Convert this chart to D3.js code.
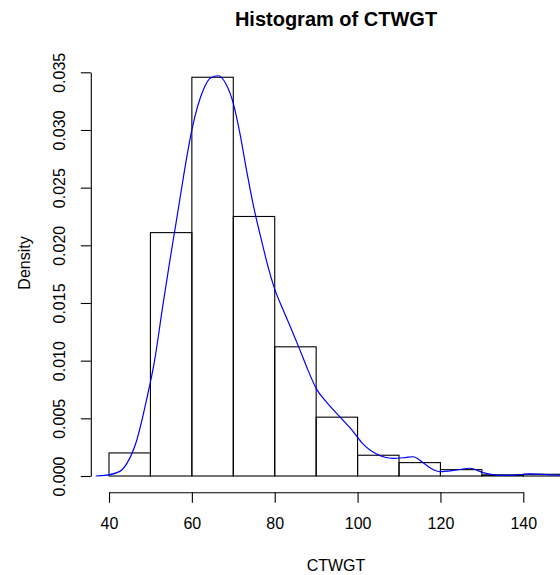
<!DOCTYPE html>
<html>
<head>
<meta charset="utf-8">
<script src="https://cdn.jsdelivr.net/npm/d3@7"></script>
<style>
  html, body { margin: 0; padding: 0; background: #fff; }
  svg { display: block; }
  text { font-family: "Liberation Sans", Arial, sans-serif; }
</style>
</head>
<body>
<svg id="chart" width="560" height="575"></svg>
<script>
// Histogram bins (left edges, width 10) and densities
const binStarts = [40, 50, 60, 70, 80, 90, 100, 110, 120, 130, 140];
const binWidth = 10;
const densities = [0.0020, 0.0211, 0.03457, 0.0225, 0.0112, 0.0051, 0.0018, 0.00116, 0.00055, 0.0001, 0.00015];

// Kernel density estimate curve (x, density)
const kdeX = [36.8, 39, 42.6, 44.5, 46.7, 49, 51, 53, 54.7, 56.3, 58, 60, 62.8, 64.5, 66.4, 68.2, 70, 71.6, 73.2, 75,
              76.9, 78.5, 80, 82, 84.1, 86, 88, 90, 92.5, 95.8, 98.6, 101, 104.6, 108.6, 111.5, 113.4, 116, 118, 119.9,
              123.9, 127.1, 130.3, 134.4, 138, 141.6, 146.4, 150, 156];
const kdeY = [0, 0.00005, 0.0004, 0.0012, 0.0031, 0.0065, 0.0100, 0.0148, 0.0187, 0.0222, 0.0260, 0.0300, 0.0335, 0.0345, 0.0347, 0.0340, 0.0323, 0.0297, 0.0265, 0.0232,
              0.0203, 0.0180, 0.0162, 0.01443, 0.01266, 0.0110, 0.0092, 0.0076, 0.0064, 0.0051, 0.0040, 0.0029, 0.0019, 0.00153, 0.0016, 0.00167, 0.0011, 0.0006, 0.00037,
              0.00052, 0.00067, 0.00029, 0.00005, 0.00008, 0.00018, 0.0001, 0.00005, 0];

// Axis ticks
const xTicks = [40, 60, 80, 100, 120, 140];
const yTicks = [0, 0.005, 0.010, 0.015, 0.020, 0.025, 0.030, 0.035];

const svg = d3.select("#chart");

const x = d3.scaleLinear().domain([40, 140]).range([109, 523.3]);
const y = d3.scaleLinear().domain([0, 0.035]).range([476, 72.3]);

const plotLeft = 90.8, plotBottom = 492.3;

// Bars
svg.append("g")
  .selectAll("rect")
  .data(binStarts.map((s, i) => ({ s, d: densities[i] })))
  .join("rect")
  .attr("x", d => x(d.s))
  .attr("y", d => y(d.d))
  .attr("width", d => x(d.s + binWidth) - x(d.s))
  .attr("height", d => y(0) - y(d.d))
  .attr("fill", "none")
  .attr("stroke", "#000")
  .attr("stroke-width", 1.1);

// Density curve
const line = d3.line()
  .x((d, i) => x(kdeX[i]))
  .y((d, i) => y(kdeY[i]))
  .curve(d3.curveMonotoneX);

svg.append("path")
  .attr("d", line(kdeX))
  .attr("fill", "none")
  .attr("stroke", "#0000FF")
  .attr("stroke-width", 1.2);

// X axis (line spans first to last tick)
const xAxisScale = x.copy().domain([40, 140]);
const xAxis = svg.append("g")
  .attr("transform", `translate(0,${plotBottom})`)
  .call(d3.axisBottom(xAxisScale).tickValues(xTicks).tickSize(10.5).tickSizeOuter(0).tickPadding(15));
xAxis.selectAll("path, line").attr("stroke", "#000").attr("stroke-width", 1.1);
xAxis.selectAll("text").attr("font-size", 16).attr("fill", "#000")
  .attr("font-family", "'Liberation Sans', Arial, sans-serif");

// Y axis
const yAxis = svg.append("g")
  .attr("transform", `translate(${plotLeft},0)`)
  .call(d3.axisLeft(y).tickValues(yTicks).tickSize(10).tickSizeOuter(0).tickFormat(d3.format(".3f")));
yAxis.selectAll("path, line").attr("stroke", "#000").attr("stroke-width", 1.1);
yAxis.selectAll("text")
  .attr("font-size", 16).attr("fill", "#000")
  .attr("font-family", "'Liberation Sans', Arial, sans-serif")
  .attr("x", null).attr("dy", null)
  .attr("text-anchor", "middle")
  .attr("transform", `translate(${65 - plotLeft},0) rotate(-90)`);

// Titles
svg.append("text")
  .attr("x", 336).attr("y", 26)
  .attr("text-anchor", "middle")
  .attr("font-size", 20).attr("font-weight", "bold")
  .text("Histogram of CTWGT");

svg.append("text")
  .attr("x", 336).attr("y", 570.7)
  .attr("text-anchor", "middle")
  .attr("font-size", 16)
  .text("CTWGT");

svg.append("text")
  .attr("transform", "translate(30,263) rotate(-90)")
  .attr("text-anchor", "middle")
  .attr("font-size", 16)
  .text("Density");
</script>
</body>
</html>
